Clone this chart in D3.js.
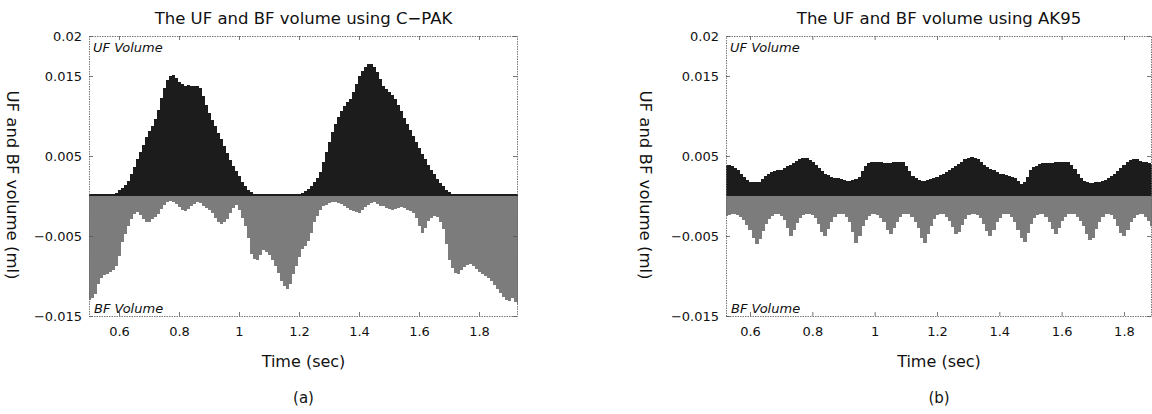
<!DOCTYPE html>
<html><head><meta charset="utf-8">
<script src="https://cdn.jsdelivr.net/npm/d3@7"></script>
<style>body{margin:0;background:#fff}svg{display:block}</style>
</head><body>
<svg id="chart" width="1152" height="414"></svg>
<script>
// ---- Panel (a): C-PAK, samples every 0.01 s starting at 0.50 s ----
const timeStartA = 0.50, timeStepA = 0.01;
const ufVolumeA = [
0.0003,0.0003,0.0003,0.0003,0.0003,0.0003,0.0003,0.0003,0.0003,
0.0004,0.0007,0.0010,0.0014,0.0019,0.0027,0.0036,0.0046,0.0055,0.0064,
0.0074,0.0081,0.0088,0.0096,0.0108,0.0122,0.0135,0.0145,0.0150,0.0151,
0.0147,0.0143,0.0140,0.0138,0.0139,0.0138,0.0137,0.0137,0.0135,0.0125,
0.0114,0.0104,0.0095,0.0087,0.0079,0.0071,0.0062,0.0054,0.0045,0.0037,
0.0031,0.0025,0.0018,0.0012,0.0008,0.0005,0.0003,
0.0003,0.0003,0.0003,0.0003,0.0003,0.0003,0.0003,0.0003,0.0003,0.0003,0.0003,0.0003,0.0003,0.0003,0.0003,
0.0004,0.0006,0.0009,0.0013,0.0018,0.0023,0.0030,0.0042,0.0055,0.0068,
0.0080,0.0090,0.0099,0.0106,0.0112,0.0117,0.0121,0.0130,0.0140,0.0150,
0.0156,0.0161,0.0165,0.0165,0.0161,0.0155,0.0146,0.0138,0.0134,0.0130,
0.0126,0.0121,0.0114,0.0106,0.0098,0.0090,0.0082,0.0075,0.0067,0.0060,
0.0053,0.0046,0.0039,0.0033,0.0027,0.0021,0.0016,0.0012,0.0008,0.0005,
0.0003,0.0003,0.0003,0.0003,0.0003,0.0003,0.0003,0.0003,0.0003,0.0003,0.0003,0.0003,
0.0003,0.0003,0.0003,0.0003,0.0003,0.0003,0.0003,0.0003,0.0003,0.0003,0.0003
];
const bfVolumeA = [
-0.0130,-0.0127,-0.0122,-0.0110,-0.0102,-0.0099,-0.0097,-0.0095,-0.0092,-0.0088,
-0.0075,-0.0058,-0.0048,-0.0038,-0.0029,-0.0022,-0.0020,-0.0024,-0.0029,-0.0032,
-0.0033,-0.0029,-0.0026,-0.0023,-0.0016,-0.0011,-0.0007,-0.0006,-0.0008,-0.0010,
-0.0014,-0.0018,-0.0019,-0.0016,-0.0013,-0.0010,-0.0008,-0.0009,-0.0012,-0.0015,
-0.0018,-0.0021,-0.0027,-0.0033,-0.0035,-0.0032,-0.0029,-0.0021,-0.0015,-0.0011,
-0.0017,-0.0027,-0.0038,-0.0052,-0.0072,-0.0079,-0.0080,-0.0074,-0.0068,-0.0070,
-0.0074,-0.0080,-0.0087,-0.0096,-0.0106,-0.0113,-0.0116,-0.0110,-0.0098,-0.0087,
-0.0076,-0.0066,-0.0063,-0.0056,-0.0046,-0.0033,-0.0025,-0.0018,-0.0013,-0.0011,
-0.0009,-0.0008,-0.0008,-0.0009,-0.0010,-0.0012,-0.0015,-0.0018,-0.0019,-0.0020,
-0.0021,-0.0018,-0.0014,-0.0011,-0.0009,-0.0008,-0.0010,-0.0012,-0.0013,-0.0015,
-0.0016,-0.0017,-0.0016,-0.0015,-0.0014,-0.0015,-0.0017,-0.0019,-0.0021,-0.0028,
-0.0038,-0.0046,-0.0040,-0.0031,-0.0027,-0.0025,-0.0026,-0.0033,-0.0041,-0.0060,
-0.0080,-0.0090,-0.0096,-0.0097,-0.0093,-0.0089,-0.0086,-0.0085,-0.0087,-0.0091,
-0.0095,-0.0098,-0.0100,-0.0102,-0.0106,-0.0111,-0.0116,-0.0121,-0.0126,-0.0130,
-0.0131,-0.0128,-0.0132,-0.0136
];
// ---- Panel (b): AK95, samples every 0.01 s starting at 0.52 s ----
const timeStartB = 0.52, timeStepB = 0.01;
const ufVolumeB = [
0.0039,0.0039,0.0037,0.0035,0.0032,0.0028,0.0024,0.0020,0.0018,0.0017,
0.0017,0.0018,0.0021,0.0025,0.0028,0.0030,0.0031,0.0032,0.0033,0.0035,
0.0037,0.0039,0.0041,0.0044,0.0046,0.0047,0.0047,0.0045,0.0042,0.0039,
0.0035,0.0031,0.0028,0.0026,0.0024,0.0023,0.0022,0.0021,0.0020,0.0019,
0.0019,0.0020,0.0021,0.0024,0.0031,0.0037,0.0041,0.0042,0.0042,0.0042,
0.0042,0.0041,0.0041,0.0041,0.0042,0.0043,0.0043,0.0042,0.0037,0.0031,
0.0025,0.0022,0.0020,0.0019,0.0019,0.0020,0.0021,0.0023,0.0024,0.0026,
0.0028,0.0030,0.0033,0.0035,0.0037,0.0040,0.0043,0.0046,0.0048,0.0049,
0.0048,0.0046,0.0042,0.0039,0.0036,0.0034,0.0032,0.0030,0.0028,0.0027,
0.0026,0.0025,0.0024,0.0022,0.0019,0.0015,0.0017,0.0024,0.0032,0.0036,
0.0038,0.0040,0.0041,0.0041,0.0041,0.0041,0.0042,0.0042,0.0043,0.0043,
0.0042,0.0039,0.0034,0.0028,0.0023,0.0019,0.0017,0.0016,0.0016,0.0017,
0.0018,0.0019,0.0020,0.0022,0.0025,0.0028,0.0031,0.0035,0.0039,0.0042,
0.0045,0.0046,0.0046,0.0044,0.0043,0.0042,0.0041,0.0040
];
const bfVolumeB = [
-0.0025,-0.0024,-0.0023,-0.0023,-0.0024,-0.0026,-0.0030,-0.0036,-0.0043,-0.0052,
-0.0060,-0.0054,-0.0044,-0.0035,-0.0029,-0.0025,-0.0023,-0.0023,-0.0025,-0.0030,
-0.0040,-0.0050,-0.0043,-0.0034,-0.0028,-0.0024,-0.0022,-0.0022,-0.0024,-0.0028,
-0.0035,-0.0045,-0.0050,-0.0041,-0.0032,-0.0026,-0.0023,-0.0022,-0.0023,-0.0026,
-0.0032,-0.0045,-0.0059,-0.0050,-0.0038,-0.0030,-0.0025,-0.0022,-0.0022,-0.0024,
-0.0027,-0.0033,-0.0042,-0.0048,-0.0040,-0.0032,-0.0026,-0.0023,-0.0022,-0.0023,
-0.0026,-0.0032,-0.0040,-0.0052,-0.0059,-0.0048,-0.0037,-0.0029,-0.0024,-0.0022,
-0.0023,-0.0026,-0.0031,-0.0039,-0.0047,-0.0045,-0.0036,-0.0029,-0.0024,-0.0022,
-0.0022,-0.0024,-0.0028,-0.0035,-0.0044,-0.0050,-0.0042,-0.0033,-0.0027,-0.0023,
-0.0022,-0.0023,-0.0026,-0.0032,-0.0042,-0.0053,-0.0058,-0.0046,-0.0035,-0.0028,
-0.0024,-0.0022,-0.0023,-0.0026,-0.0032,-0.0041,-0.0047,-0.0040,-0.0031,-0.0026,
-0.0023,-0.0022,-0.0023,-0.0026,-0.0031,-0.0038,-0.0047,-0.0055,-0.0052,-0.0041,
-0.0032,-0.0026,-0.0023,-0.0022,-0.0024,-0.0029,-0.0037,-0.0046,-0.0050,-0.0042,
-0.0033,-0.0027,-0.0024,-0.0022,-0.0023,-0.0026,-0.0031,-0.0038
];
// ---- Axis ticks and text ----
const xTickValues = [0.6, 0.8, 1, 1.2, 1.4, 1.6, 1.8];
const xTickLabels = ["0.6", "0.8", "1", "1.2", "1.4", "1.6", "1.8"];
const yTickValues = [0.02, 0.015, 0.005, -0.005, -0.015];
const yTickLabels = ["0.02", "0.015", "0.005", "\u22120.005", "\u22120.015"];
const panelTitles = ["The UF and BF volume using C\u2212PAK", "The UF and BF volume using AK95"];
const panelTags = ["(a)", "(b)"];
const xAxisTitle = "Time (sec)";
const yAxisTitle = "UF and BF volume (ml)";
const ufLabel = "UF Volume", bfLabel = "BF Volume";

const FONT = "'DejaVu Sans', sans-serif";
const svg = d3.select("#chart");

const panels = [
  {x0: 89, x1: 518, domain: [0.50, 1.93], start: timeStartA, step: timeStepA, uf: ufVolumeA, bf: bfVolumeA,
   title: panelTitles[0], tag: panelTags[0], yLabelX: 13},
  {x0: 726, x1: 1152, domain: [0.523, 1.89], start: timeStartB, step: timeStepB, uf: ufVolumeB, bf: bfVolumeB,
   title: panelTitles[1], tag: panelTags[1], yLabelX: 646}
];
const yTop = 36, yBottom = 316;

panels.forEach((p, pi) => {
  const x = d3.scaleLinear().domain(p.domain).range([p.x0, p.x1]);
  const y = d3.scaleLinear().domain([-0.015, 0.02]).range([yBottom, yTop]);
  const cx = (p.x0 + p.x1) / 2;
  const g = svg.append("g");

  const clipId = "clip" + pi;
  svg.append("clipPath").attr("id", clipId).append("rect")
    .attr("x", p.x0).attr("y", yTop).attr("width", p.x1 - p.x0).attr("height", yBottom - yTop);

  const plot = g.append("g").attr("clip-path", `url(#${clipId})`);
  const times = p.uf.map((_, i) => p.start + i * p.step);
  const bw = i => x(times[i] + p.step / 2) - x(times[i] - p.step / 2);

  plot.append("g").selectAll("rect").data(p.bf).join("rect")
    .attr("x", (d, i) => x(times[i] - p.step / 2))
    .attr("width", (d, i) => bw(i) + 0.9)
    .attr("y", y(0))
    .attr("height", d => y(d) - y(0))
    .attr("shape-rendering", "crispEdges")
    .attr("fill", "#7c7c7c");

  plot.append("g").selectAll("rect").data(p.uf).join("rect")
    .attr("x", (d, i) => x(times[i] - p.step / 2))
    .attr("width", (d, i) => bw(i) + 0.9)
    .attr("y", d => y(d))
    .attr("height", d => y(0) - y(d))
    .attr("shape-rendering", "crispEdges")
    .attr("fill", "#1c1c1c");

  // border
  g.append("rect").attr("x", p.x0 + 0.5).attr("y", yTop + 0.5)
    .attr("width", p.x1 - p.x0 - 1).attr("height", yBottom - yTop)
    .attr("fill", "none").attr("stroke", "#6a6a6a").attr("stroke-width", 0.9)
    .attr("stroke-dasharray", "1.5,1");

  const styleAxis = sel => {
    sel.select(".domain").remove();
    sel.selectAll(".tick line").attr("stroke", "#555").attr("stroke-width", 0.8);
    sel.selectAll("text").attr("font-family", FONT).attr("font-size", 13).attr("fill", "#111");
  };
  g.append("g").attr("transform", `translate(0,${yBottom})`)
    .call(d3.axisBottom(x).tickValues(xTickValues).tickFormat((d, i) => xTickLabels[i]).tickSize(-4).tickPadding(11))
    .call(styleAxis);
  g.append("g").attr("transform", `translate(0,${yTop})`)
    .call(d3.axisTop(x).tickValues(xTickValues).tickFormat("").tickSize(-4))
    .call(styleAxis);
  g.append("g").attr("transform", `translate(${p.x0},0)`)
    .call(d3.axisLeft(y).tickValues(yTickValues).tickFormat((d, i) => yTickLabels[i]).tickSize(-4).tickPadding(7))
    .call(styleAxis);
  g.append("g").attr("transform", `translate(${p.x1 - 1},0)`)
    .call(d3.axisRight(y).tickValues(yTickValues).tickFormat("").tickSize(-4))
    .call(styleAxis);

  g.append("text").attr("x", cx).attr("y", 24).attr("text-anchor", "middle")
    .attr("font-family", FONT).attr("font-size", 16.5).attr("fill", "#111").text(p.title);
  g.append("text").attr("x", cx).attr("y", 367).attr("text-anchor", "middle")
    .attr("font-family", FONT).attr("font-size", 16).attr("fill", "#111").text(xAxisTitle);
  g.append("text").attr("x", cx).attr("y", 403).attr("text-anchor", "middle")
    .attr("font-family", FONT).attr("font-size", 15).attr("fill", "#111").text(p.tag);
  g.append("text").attr("transform", `translate(${p.yLabelX},185) rotate(90)`)
    .attr("text-anchor", "middle").attr("dy", "0.35em")
    .attr("font-family", FONT).attr("font-size", 16.5).attr("fill", "#111").text(yAxisTitle);
  g.append("text").attr("x", p.x0 + 4).attr("y", 52)
    .attr("font-family", FONT).attr("font-style", "italic").attr("font-size", 13).attr("fill", "#111").text(ufLabel);
  g.append("text").attr("x", p.x0 + 5).attr("y", 313)
    .attr("font-family", FONT).attr("font-style", "italic").attr("font-size", 13).attr("fill", "#111").text(bfLabel);
});
</script>
</body></html>
